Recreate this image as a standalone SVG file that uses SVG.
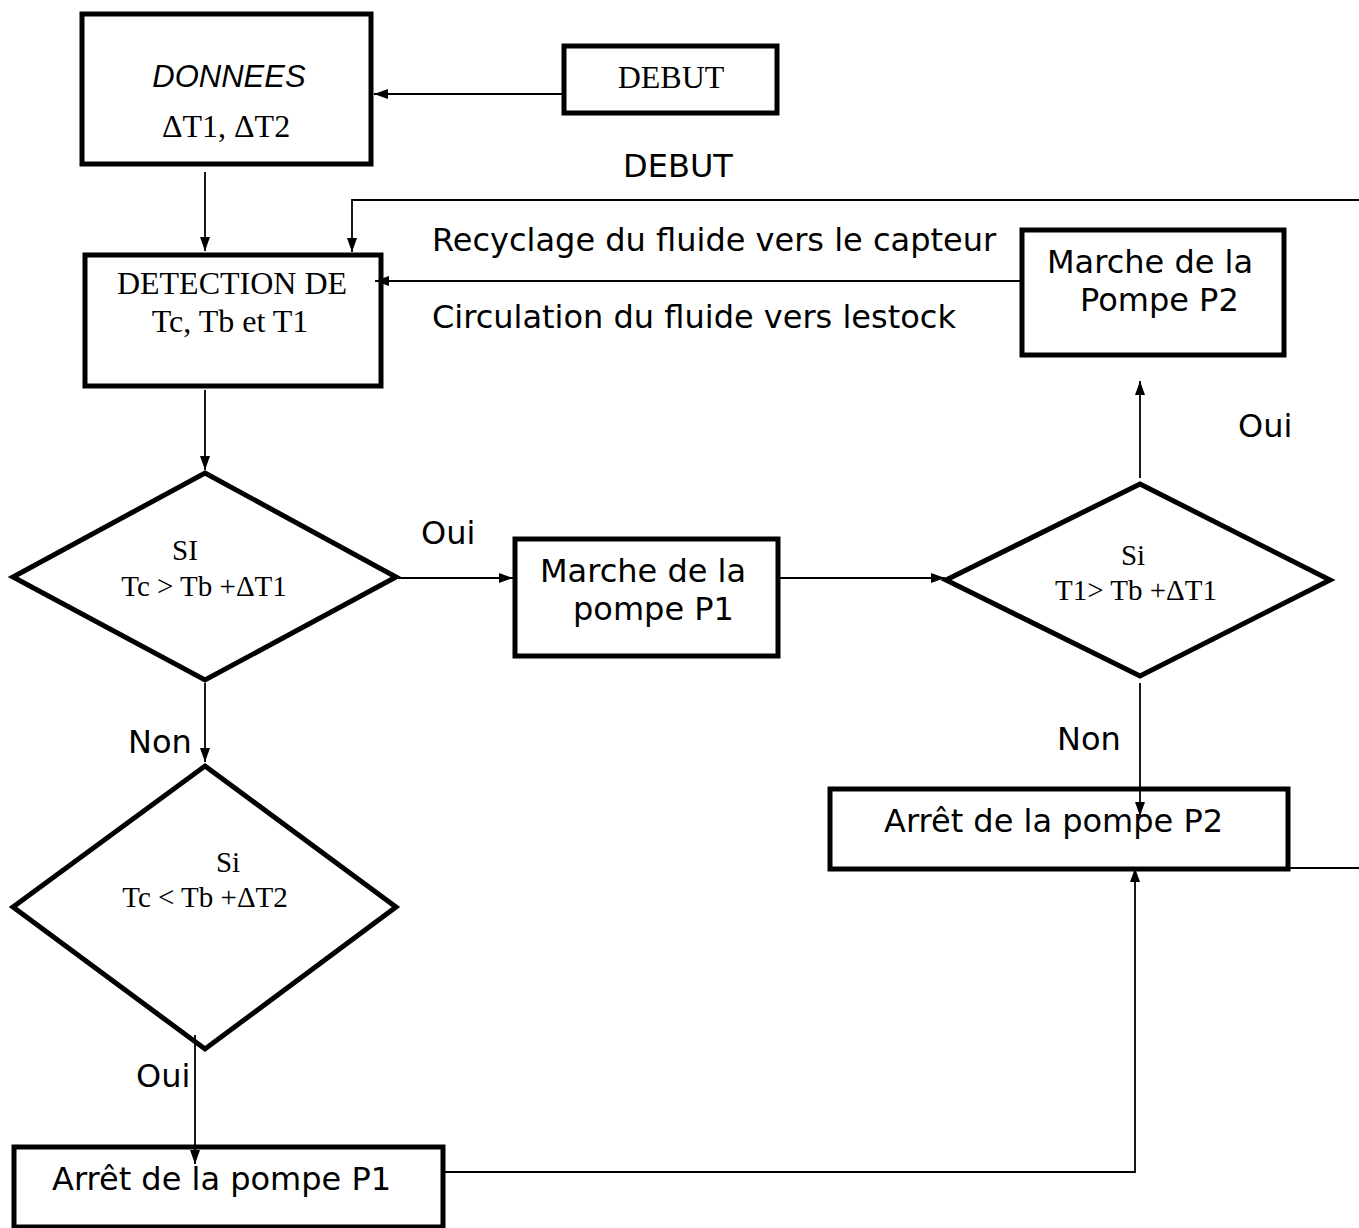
<svg xmlns="http://www.w3.org/2000/svg" width="1359" height="1228" viewBox="0 0 1359 1228">
  <style>
    .box { fill: #fff; stroke: #000; stroke-width: 5; }
    .dec { fill: #fff; stroke: #000; stroke-width: 5; stroke-linejoin: miter; }
    .link { fill: none; stroke: #000; stroke-width: 1.8; }
    .serif { font-family: "Liberation Serif", "Times New Roman", serif; font-size: 32px; fill: #000; }
    .dtxt { font-size: 29px; }
    .sans { font-family: "DejaVu Sans", Verdana, sans-serif; font-size: 32px; fill: #000; }
    .c { text-anchor: middle; }
  </style>
  <defs>
    <marker id="arrow" viewBox="0 0 14 10" refX="14" refY="5" markerWidth="14" markerHeight="10" markerUnits="userSpaceOnUse" orient="auto">
      <path d="M0,0 L14,5 L0,10 z" fill="#000"/>
    </marker>
  </defs>

  <rect width="1359" height="1228" fill="#fff"/>

  <!-- input data -->
  <g id="donnees">
    <rect class="box" x="82" y="14" width="289" height="150"/>
    <text x="229" y="87" class="c" font-family="Liberation Sans, Arial, sans-serif" font-style="italic" font-size="31">DONNEES</text>
    <text x="226" y="137" class="serif c">ΔT1, ΔT2</text>
  </g>

  <g id="debut">
    <rect class="box" x="564" y="46" width="213" height="67"/>
    <text x="671" y="88" class="serif c">DEBUT</text>
  </g>

  <g id="detection">
    <rect class="box" x="85" y="255" width="296" height="131"/>
    <text x="232" y="294" class="serif c">DETECTION DE</text>
    <text x="230" y="332" class="serif c">Tc, Tb et T1</text>
  </g>

  <g id="marche-p2">
    <rect class="box" x="1022" y="230" width="262" height="125"/>
    <text x="1047" y="273" class="sans">Marche de la</text>
    <text x="1080" y="311" class="sans">Pompe P2</text>
  </g>

  <g id="test-tc-sup">
    <polygon class="dec" points="205,473 396,577 205,680 13,577"/>
    <text x="185" y="560" class="serif dtxt c">SI</text>
    <text x="204" y="596" class="serif dtxt c">Tc &gt; Tb +ΔT1</text>
  </g>

  <g id="marche-p1">
    <rect class="box" x="515" y="539" width="263" height="117"/>
    <text x="540" y="582" class="sans">Marche de la</text>
    <text x="573" y="620" class="sans">pompe P1</text>
  </g>

  <g id="test-t1">
    <polygon class="dec" points="1140,484 1330,580 1140,676 946,580"/>
    <text x="1133" y="565" class="serif dtxt c">Si</text>
    <text x="1136" y="600" class="serif dtxt c">T1&gt; Tb +ΔT1</text>
  </g>

  <g id="arret-p2">
    <rect class="box" x="830" y="789" width="458" height="80"/>
    <text x="884" y="832" class="sans">Arrêt de la pompe P2</text>
  </g>

  <g id="test-tc-inf">
    <polygon class="dec" points="205,766 396,907 205,1049 13,907"/>
    <text x="228" y="872" class="serif dtxt c">Si</text>
    <text x="205" y="907" class="serif dtxt c">Tc &lt; Tb +ΔT2</text>
  </g>

  <g id="arret-p1">
    <rect class="box" x="14" y="1147" width="429" height="80"/>
    <text x="52" y="1190" class="sans">Arrêt de la pompe P1</text>
  </g>

  <!-- connectors, drawn over the boxes -->
  <g id="connectors">
    <path class="link" d="M562,94 H374" marker-end="url(#arrow)"/>
    <path class="link" d="M205,172 V251" marker-end="url(#arrow)"/>
    <path class="link" d="M1359,200 H352 V252" marker-end="url(#arrow)"/>
    <path class="link" d="M1020,281 H375" marker-end="url(#arrow)"/>
    <path class="link" d="M205,390 V470" marker-end="url(#arrow)"/>
    <path class="link" d="M397,578 H513" marker-end="url(#arrow)"/>
    <path class="link" d="M780,578 H945" marker-end="url(#arrow)"/>
    <path class="link" d="M1140,478 V381" marker-end="url(#arrow)"/>
    <path class="link" d="M1140,683 V816" marker-end="url(#arrow)"/>
    <path class="link" d="M1290,868 H1359"/>
    <path class="link" d="M205,683 V762" marker-end="url(#arrow)"/>
    <path class="link" d="M195,1035 V1164" marker-end="url(#arrow)"/>
    <path class="link" d="M445,1172 H1135 V868" marker-end="url(#arrow)"/>
  </g>

  <!-- free labels -->
  <g id="labels">
    <text x="678" y="177" class="sans c">DEBUT</text>
    <text x="432" y="251" class="sans">Recyclage du fluide vers le capteur</text>
    <text x="432" y="328" class="sans">Circulation du fluide vers lestock</text>
    <text x="1238" y="437" class="sans">Oui</text>
    <text x="421" y="544" class="sans">Oui</text>
    <text x="1057" y="750" class="sans">Non</text>
    <text x="128" y="753" class="sans">Non</text>
    <text x="136" y="1087" class="sans">Oui</text>
  </g>
</svg>
